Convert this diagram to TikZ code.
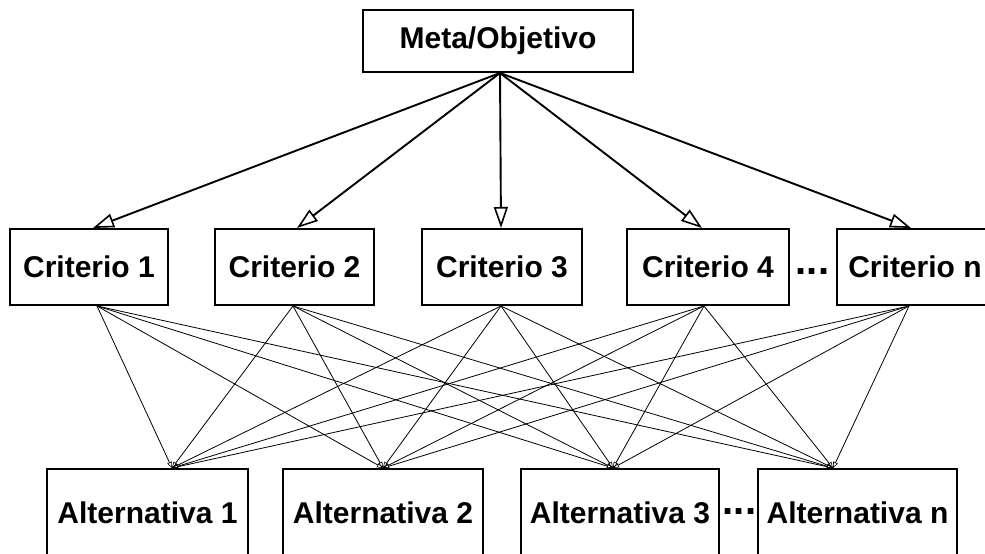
\documentclass[tikz,border=0pt]{standalone}
\usepackage{fontspec}
\setmainfont{Liberation Sans}
\usetikzlibrary{arrows.meta}
\begin{document}
\begin{tikzpicture}[x=1pt,y=1pt,
  box/.style={draw, line width=2pt, inner sep=0pt, font=\fontsize{30}{36}\selectfont\bfseries},
  toparrow/.style={line width=1.9pt, -{Triangle[open,length=21pt,width=14pt,line width=1.6pt]}},
  link/.style={line width=0.8pt, -{Triangle[open,length=6pt,width=5pt,line width=0.6pt]}},
  dotsnode/.style={font=\fontsize{40}{44}\selectfont\bfseries, inner sep=0pt, anchor=base}]
\useasboundingbox (0,0) rectangle (985,554);
\begin{scope}
\clip (0,0) rectangle (985,554);
% goal
\node[box, minimum width=270, minimum height=62] (meta) at (498,513) {Meta/Objetivo};
% criteria
\node[box, minimum width=158, minimum height=76] (c1) at (89,287) {Criterio 1};
\node[box, minimum width=159, minimum height=76] (c2) at (294.5,287) {Criterio 2};
\node[box, minimum width=160, minimum height=76] (c3) at (502,287) {Criterio 3};
\node[box, minimum width=162, minimum height=76] (c4) at (708,287) {Criterio 4};
\node[box, minimum width=156, minimum height=76] (cn) at (915,287) {Criterio n};
\node[dotsnode] (d1) at (812.5,279.5) {...};
% alternatives
\node[box, minimum width=201, minimum height=88] (a1) at (147.5,41) {Alternativa 1};
\node[box, minimum width=200, minimum height=88] (a2) at (383,41) {Alternativa 2};
\node[box, minimum width=198, minimum height=88] (a3) at (620,41) {Alternativa 3};
\node[box, minimum width=199, minimum height=88] (an) at (857.5,41) {Alternativa n};
\node[dotsnode] (d2) at (739.5,39.5) {...};
% goal to criteria
\draw[toparrow] ([xshift=2pt]meta.south) -- ([xshift=4pt]c1.north);
\draw[toparrow] ([xshift=2pt]meta.south) -- ([xshift=2.5pt]c2.north);
\draw[toparrow] ([xshift=2pt]meta.south) -- ([xshift=-1pt]c3.north);
\draw[toparrow] ([xshift=2pt]meta.south) -- ([xshift=-6pt]c4.north);
\draw[toparrow] ([xshift=2pt]meta.south) -- ([xshift=-4pt]cn.north);
% criteria to alternatives
\foreach \c/\cs in {c1/8, c2/-1.5, c3/-1, c4/-4, cn/-6}{
  \foreach \a/\as in {a1/24.5, a2/0, a3/-7, an/-24.5}{
    \draw[link] ([xshift=\cs pt]\c.south) -- ([xshift=\as pt]\a.north);
  }
}
\end{scope}
\end{tikzpicture}
\end{document}
